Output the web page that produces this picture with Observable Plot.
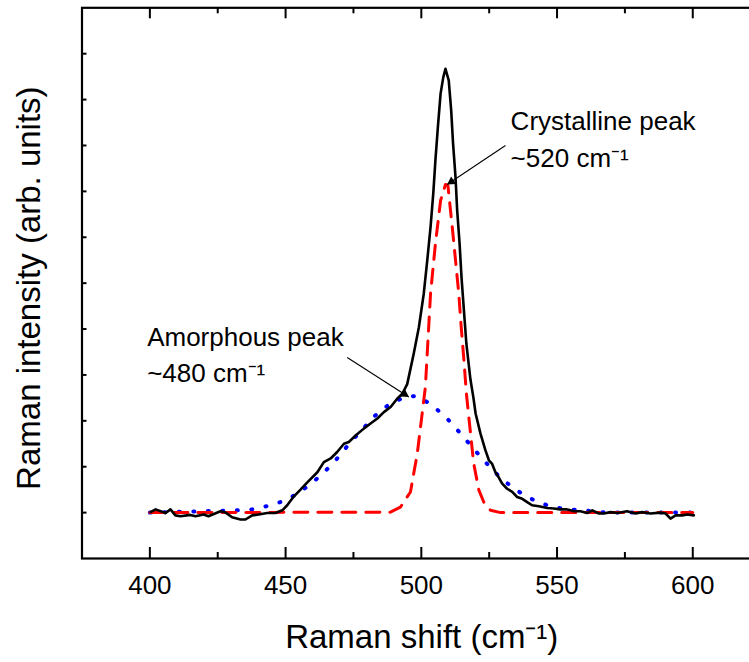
<!DOCTYPE html>
<html><head><meta charset="utf-8">
<script src="https://cdn.jsdelivr.net/npm/d3@7"></script>
<script src="https://cdn.jsdelivr.net/npm/@observablehq/plot@0.6"></script>
<style>
html,body{margin:0;padding:0;background:#fff;overflow:hidden;}
#chart{width:749px;height:662px;overflow:hidden;}
</style></head><body><div id="chart"></div>
<script>
// Measured Raman spectrum (black solid)
const measuredShift = [400.3,402.1,405.8,407.6,409.4,411.3,414.9,416.8,419.8,421.6,426.0,427.9,430.3,433.4,435.2,437.7,440.1,443.2,446.3,448.8,450.6,453.0,455.5,458.0,461.7,464.1,466.6,469.0,471.5,473.3,475.8,478.8,481.3,483.8,486.2,488.7,491.1,493.0,494.8,497.2,499.1,500.9,502.2,503.4,504.4,505.2,506.1,507.1,508.1,508.9,510.1,511.0,511.7,512.6,513.2,514.1,514.8,515.7,516.6,518.1,519.2,520.0,521.8,523.6,524.9,526.1,527.3,528.5,529.8,531.6,533.5,535.3,537.2,539.0,540.8,543.3,546.4,548.8,551.3,553.7,555.0,556.2,558.6,561.1,563.0,565.4,567.2,569.7,572.2,575.8,578.9,581.4,584.4,588.1,590.0,591.8,593.7,596.1,597.9,600.4];
const measuredIntensity = [0.01,0.07,-0.01,0.07,-0.06,-0.08,-0.05,-0.08,-0.04,-0.08,0.03,0.00,-0.10,-0.15,-0.15,-0.06,-0.04,-0.01,-0.01,0.05,0.16,0.35,0.50,0.66,0.88,1.10,1.18,1.32,1.50,1.54,1.68,1.83,1.94,2.05,2.19,2.30,2.48,2.59,2.80,3.46,4.04,4.77,5.50,6.22,6.95,7.68,8.40,9.13,9.49,9.67,9.42,8.77,8.04,7.31,6.59,5.86,5.13,4.40,3.68,2.90,2.50,2.16,1.72,1.36,1.14,1.06,0.88,0.77,0.63,0.52,0.45,0.34,0.30,0.23,0.16,0.14,0.10,0.09,0.07,0.07,0.05,0.03,0.03,-0.01,0.05,-0.02,-0.02,0.01,-0.01,0.03,-0.02,0.01,-0.02,0.00,-0.02,-0.13,-0.06,-0.06,-0.04,-0.06];

// Crystalline component (red dashed)
const crystShift = [400,488.6,492.3,496.0,497.2,498.5,500.3,501.5,503.4,505.2,507.1,508.9,509.8,511.4,512.6,513.8,514.7,515.7,516.6,517.5,519.3,521.2,523.0,525.5,529.2,600];
const crystIntensity = [0,0.01,0.12,0.45,0.85,1.28,2.15,2.74,4.77,5.86,6.80,7.15,7.13,6.22,5.50,4.77,4.04,3.32,2.60,2.08,1.07,0.49,0.23,0.05,0,0];

// Amorphous component (blue dotted)
const amorShift = [400,432.2,437.7,443.0,448.1,453.5,458.8,464.1,469.0,473.3,478.2,483.1,488.4,493.6,496.5,499.1,504.0,509.5,514.2,518.7,523.3,528.3,533.7,539.0,544.3,549.4,554.6,559.9,565.4,570,600];
const amorIntensity = [0,0.05,0.07,0.14,0.23,0.38,0.60,0.87,1.18,1.49,1.81,2.12,2.37,2.51,2.54,2.52,2.34,2.05,1.74,1.43,1.12,0.81,0.54,0.34,0.20,0.11,0.07,0.05,0.01,0,0];

// Axes
const xMajorTicks = [400,450,500,550,600];
const xMinorTicks = [425,475,525,575];
const yTicks = [0,1,2,3,4,5,6,7,8,9,10];
const xDomain = [375, 620.9];
const yDomain = [-1, 11];
const xTitle = "Raman shift (cm\u207B\u00B9)";
const yTitle = "Raman intensity (arb. units)";

// Annotations
const labelText = ["Crystalline peak", "~520 cm\u207B\u00B9", "Amorphous peak", "~480 cm\u207B\u00B9"];
const labelX = [532.9, 532.9, 399.0, 399.0];
const labelY = [8.33, 7.53, 3.63, 2.85];
const arrowX1 = [531.0, 472.7];
const arrowY1 = [8.00, 3.38];
const arrowX2 = [509.5, 495.4];
const arrowY2 = [7.15, 2.52];
const headX = [511.1, 493.85];
const headY = [7.21, 2.58];
const headAngle = [-124, 123];

const zip = (xs, ys) => xs.map((x, i) => ({x, y: ys[i]}));
const measured = zip(measuredShift, measuredIntensity);
const cryst = zip(crystShift, crystIntensity);
const amor = zip(amorShift, amorIntensity);
const labels = labelText.map((t, i) => ({t, x: labelX[i], y: labelY[i]}));
const arrows = arrowX1.map((x1, i) => ({x1, y1: arrowY1[i], x2: arrowX2[i], y2: arrowY2[i], hx: headX[i], hy: headY[i], a: headAngle[i]}));

const H = 662, MT = 7.3, MB = 104;
const frameH = H - MT - MB;
const majorLen = 11, minorLen = 6;

const chart = Plot.plot({
  width: 749,
  height: H,
  marginLeft: 81.5,
  marginRight: 0,
  marginTop: MT,
  marginBottom: MB,
  style: {fontFamily: "'Liberation Sans', Arial, sans-serif", background: "white", color: "black", maxWidth: "none", overflow: "hidden"},
  x: {domain: xDomain},
  y: {domain: yDomain},
  marks: [
    // inward ticks, bottom and top
    Plot.tickX(xMajorTicks, {x: d => d, stroke: "black", strokeWidth: 2, insetTop: frameH - majorLen}),
    Plot.tickX(xMinorTicks, {x: d => d, stroke: "black", strokeWidth: 2, insetTop: frameH - minorLen}),
    Plot.tickX(xMajorTicks, {x: d => d, stroke: "black", strokeWidth: 2, insetBottom: frameH - majorLen}),
    Plot.tickX(xMinorTicks, {x: d => d, stroke: "black", strokeWidth: 2, insetBottom: frameH - minorLen}),
    Plot.axisY({anchor: "left", ticks: yTicks, tickSize: -5, strokeWidth: 2, fill: "none", label: null}),
    Plot.axisX({anchor: "bottom", ticks: xMajorTicks, tickSize: 0, tickPadding: 17, fontSize: 26, label: null}),
    Plot.frame({stroke: "black", strokeWidth: 2.2, insetRight: -20}),
    // series
    Plot.line(amor, {x: "x", y: "y", stroke: "#0000ff", strokeWidth: 4, strokeDasharray: "1 13.5", strokeLinecap: "round"}),
    Plot.line(cryst, {x: "x", y: "y", stroke: "#ff0000", strokeWidth: 3, strokeDasharray: "14 10"}),
    Plot.line(measured, {x: "x", y: "y", stroke: "black", strokeWidth: 2.6, strokeLinejoin: "round"}),
    // annotations
    Plot.link(arrows, {x1: "x1", y1: "y1", x2: "x2", y2: "y2", stroke: "black", strokeWidth: 1.1}),
    Plot.dot(arrows, {x: "hx", y: "hy", symbol: "triangle", rotate: "a", r: 3.3, fill: "black", stroke: "none"}),
    Plot.text(labels, {x: "x", y: "y", text: "t", textAnchor: "start", lineAnchor: "bottom", fontSize: 26}),
    // titles
    Plot.text([xTitle], {frameAnchor: "bottom", text: d => d, dx: 6, dy: 89, lineAnchor: "bottom", fontSize: 33}),
    Plot.text([yTitle], {frameAnchor: "left", text: d => d, rotate: -90, textAnchor: "middle", dx: -53, dy: 5, fontSize: 33})
  ]
});

document.getElementById("chart").appendChild(chart);
</script>
</body></html>
